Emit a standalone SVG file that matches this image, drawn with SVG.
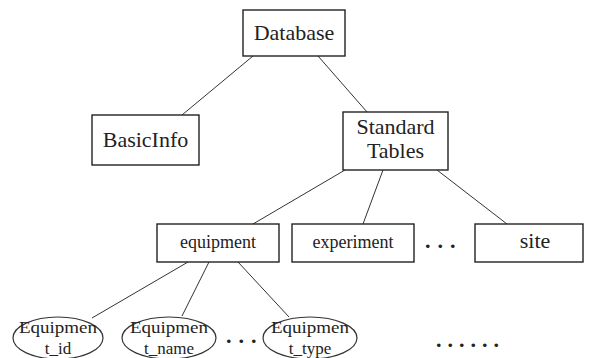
<svg xmlns="http://www.w3.org/2000/svg" width="589" height="358" viewBox="0 0 589 358">
<style>
.box{fill:#fff;stroke:#222;stroke-width:1.4}
.ell{fill:#fff;stroke:#333;stroke-width:1.2}
.ln{stroke:#333;stroke-width:1;fill:none}
text{font-family:"Liberation Serif","Times New Roman",serif;fill:#222;text-anchor:middle}
.big{font-size:22px}
.mid{font-size:18px}
.sm{font-size:17px}
.dots{font-size:22px;font-weight:bold;letter-spacing:7px;text-anchor:start}
</style>
<rect width="589" height="358" fill="#fff"/>
<g id="connectors">
<line class="ln" x1="253" y1="56" x2="182" y2="115"/>
<line class="ln" x1="318" y1="56" x2="367" y2="112"/>
<line class="ln" x1="345" y1="170" x2="253" y2="224"/>
<line class="ln" x1="383" y1="170" x2="363" y2="224"/>
<line class="ln" x1="437" y1="170" x2="507" y2="224"/>
<line class="ln" x1="188" y1="262" x2="92" y2="318"/>
<line class="ln" x1="209" y1="262" x2="182" y2="316"/>
<line class="ln" x1="238" y1="262" x2="289" y2="317"/>
</g>
<g id="database">
<rect class="box" x="243" y="10" width="102" height="46"/>
<text class="big" x="294" y="40">Database</text>
</g>
<g id="basicinfo">
<rect class="box" x="92" y="115" width="107" height="50"/>
<text class="big" x="145.5" y="147">BasicInfo</text>
</g>
<g id="standard-tables">
<rect class="box" x="343" y="112" width="105" height="58"/>
<text class="big" x="395.5" y="134">Standard</text>
<text class="big" x="395.5" y="158">Tables</text>
</g>
<g id="equipment">
<rect class="box" x="157" y="224" width="122" height="38"/>
<text class="mid" x="218" y="248">equipment</text>
</g>
<g id="experiment">
<rect class="box" x="292" y="224" width="122" height="38"/>
<text class="mid" x="353" y="248">experiment</text>
</g>
<text class="dots" x="425" y="248">...</text>
<g id="site">
<rect class="box" x="475" y="224" width="108" height="38"/>
<text class="big" x="535" y="248">site</text>
</g>
<g id="equipment-id">
<ellipse class="ell" cx="58" cy="338" rx="45" ry="21"/>
<text class="sm" x="58" y="333" textLength="78" lengthAdjust="spacingAndGlyphs">Equipmen</text>
<text class="sm" x="58" y="354">t_id</text>
</g>
<g id="equipment-name">
<ellipse class="ell" cx="169" cy="338" rx="47" ry="21"/>
<text class="sm" x="169" y="333" textLength="78" lengthAdjust="spacingAndGlyphs">Equipmen</text>
<text class="sm" x="169" y="354">t_name</text>
</g>
<text class="dots" x="226" y="343">...</text>
<g id="equipment-type">
<ellipse class="ell" cx="310" cy="338" rx="47" ry="21"/>
<text class="sm" x="310" y="333" textLength="78" lengthAdjust="spacingAndGlyphs">Equipmen</text>
<text class="sm" x="310" y="354">t_type</text>
</g>
<text class="dots" x="436" y="347" style="letter-spacing:6px">......</text>
</svg>
